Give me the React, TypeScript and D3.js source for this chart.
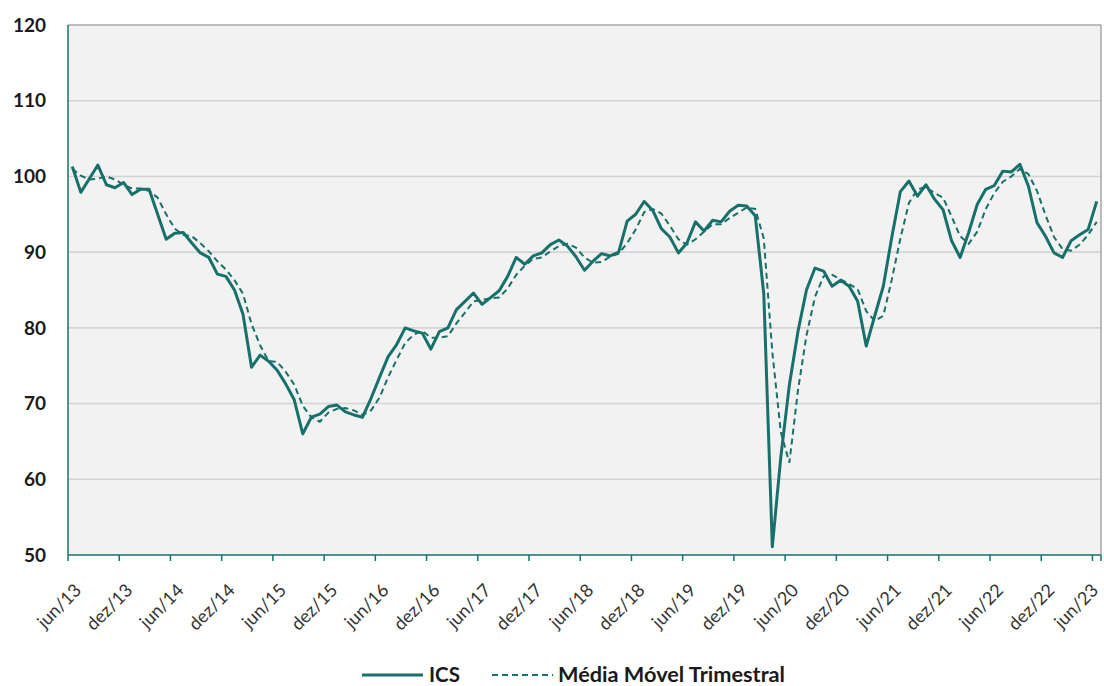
import React from "react";
import * as d3 from "d3";

const MONTHS = ["jan", "fev", "mar", "abr", "mai", "jun", "jul", "ago", "set", "out", "nov", "dez"];
const categories: string[] = [];
for (let i = 0; i < 121; i++) {
  const m = (5 + i) % 12;
  const y = 13 + Math.floor((5 + i) / 12);
  categories.push(`${MONTHS[m]}/${y}`);
}

const tickLabels = [
  "jun/13", "dez/13", "jun/14", "dez/14", "jun/15", "dez/15", "jun/16", "dez/16", "jun/17", "dez/17",
  "jun/18", "dez/18", "jun/19", "dez/19", "jun/20", "dez/20", "jun/21", "dez/21", "jun/22", "dez/22", "jun/23",
];

const yTicks = [50, 60, 70, 80, 90, 100, 110, 120];

const ICS = [
  101.3, 97.9, 99.7, 101.5, 98.9, 98.5, 99.2, 97.6, 98.3, 98.3,
  95.0, 91.7, 92.5, 92.6, 91.2, 89.9, 89.3, 87.1, 86.8, 85.0,
  81.8, 74.8, 76.4, 75.6, 74.4, 72.6, 70.5, 66.0, 68.2, 68.6,
  69.6, 69.8, 68.9, 68.5, 68.2, 70.7, 73.5, 76.2, 77.8, 80.0,
  79.6, 79.3, 77.2, 79.5, 80.0, 82.4, 83.5, 84.6, 83.1, 84.0,
  84.9, 86.8, 89.3, 88.4, 89.5, 89.9, 91.0, 91.6, 90.8, 89.4,
  87.6, 88.8, 89.8, 89.5, 90.0, 94.1, 95.0, 96.7, 95.5, 93.1,
  92.0, 89.9, 91.2, 94.0, 92.8, 94.2, 94.0, 95.4, 96.2, 96.1,
  94.8, 84.5, 51.1, 63.0, 72.5, 79.5, 85.0, 87.9, 87.5, 85.5,
  86.3, 85.5, 83.5, 77.6, 81.6, 85.5, 92.0, 98.0, 99.4, 97.4,
  98.9, 97.0, 95.6, 91.5, 89.3, 92.6, 96.3, 98.3, 98.8, 100.7,
  100.6, 101.6, 98.7, 93.9, 92.1, 89.9, 89.3, 91.5, 92.3, 93.0,
  96.7,
];

const MMT = [
  101.0, 100.1, 99.6, 99.7, 100.0, 99.6, 98.9, 98.4, 98.4, 98.1,
  97.2, 95.0, 93.1, 92.3, 92.1, 91.2, 90.1, 88.8, 87.7, 86.3,
  84.5, 80.5, 77.7, 75.6, 75.5, 74.2, 72.5, 69.7, 68.2, 67.6,
  68.8, 69.3, 69.4, 69.1, 68.5, 69.1, 70.8, 73.5, 75.8, 78.0,
  79.1, 79.6, 78.7, 78.7, 78.9, 80.6, 82.0, 83.5, 83.7, 83.9,
  84.0, 85.2, 87.0, 88.2, 89.1, 89.3, 90.1, 90.8, 91.1, 90.6,
  89.3, 88.6, 88.7, 89.4, 89.8, 91.2, 93.0, 95.3, 95.7, 95.1,
  93.5, 91.7, 91.0, 91.7, 92.7, 93.7, 93.7, 94.5, 95.2, 95.9,
  95.7, 91.8, 76.8, 66.2, 62.2, 71.7, 79.0, 84.1, 86.8, 87.0,
  86.4, 85.8, 85.1, 82.2, 80.9, 81.6, 86.4, 91.8, 96.5, 98.3,
  98.6, 97.8, 97.2, 94.7, 92.1, 91.1, 92.7, 95.7, 97.8, 99.3,
  100.0, 101.0, 100.3, 98.1, 94.9, 92.0, 90.4, 90.2, 91.0, 92.3,
  94.0,
];

const W = 1104;
const H = 686;
const L = 68;
const R = 1101;
const T = 25;
const B = 555;
const TEAL = "#18706b";
const FONT = "Lato, 'Open Sans', sans-serif";

export default function App() {
  const x = d3.scaleBand<string>().domain(categories).range([L, R]).padding(0);
  const bw = x.bandwidth();
  const cx = (i: number) => (x(categories[i]) as number) + bw / 2;
  const y = d3.scaleLinear().domain([50, 120]).range([B, T]);

  const line = d3
    .line<number>()
    .x((_, i) => cx(i))
    .y((d) => y(d));

  const tickIdx = tickLabels.map((t) => categories.indexOf(t));

  return (
    <svg width={W} height={H} style={{ position: "absolute", left: 0, top: 0, background: "#fff" }}>
      <rect x={L} y={T} width={R - L} height={B - T} fill="#f2f2f2" />
      {yTicks.filter((v) => v > 50 && v < 120).map((v) => (
        <line key={v} x1={L} x2={R} y1={y(v)} y2={y(v)} stroke="#d4d4d4" strokeWidth={1.6} />
      ))}
      <line x1={L} x2={R} y1={T} y2={T} stroke="#a6a6a6" strokeWidth={1.5} />
      <line x1={R} x2={R} y1={T} y2={B} stroke="#a6a6a6" strokeWidth={1.5} />
      <line x1={L} x2={L} y1={T} y2={B} stroke={TEAL} strokeWidth={1.5} />
      <line x1={L} x2={R} y1={B} y2={B} stroke={TEAL} strokeWidth={1.5} />
      {tickIdx.map((i, j) => {
        const tx = x(categories[i]) as number;
        return <line key={j} x1={tx} x2={tx} y1={B} y2={B + 6} stroke={TEAL} strokeWidth={1.5} />;
      })}
      <line x1={R} x2={R} y1={B} y2={B + 6} stroke={TEAL} strokeWidth={1.5} />
      {yTicks.map((v) => (
        <text
          key={v}
          x={46}
          y={y(v)}
          dy="0.35em"
          textAnchor="end"
          fontFamily={FONT}
          fontWeight={700}
          fontSize={19}
          fill="#1a1a1a"
        >
          {v}
        </text>
      ))}
      {tickIdx.map((i, j) => {
        const tick = x(categories[i]) as number;
        const tx = Math.min(tick + 10, 1095);
        const ty = B + 32;
        return (
          <text
            key={j}
            x={tx}
            y={ty}
            dy="0.35em"
            textAnchor="end"
            transform={`rotate(-45 ${tx} ${ty})`}
            fontFamily={FONT}
            fontSize={18}
            fill="#333"
          >
            {tickLabels[j]}
          </text>
        );
      })}
      <path d={line(MMT) || ""} fill="none" stroke={TEAL} strokeWidth={2} strokeDasharray="6 4" />
      <path d={line(ICS) || ""} fill="none" stroke={TEAL} strokeWidth={3} strokeLinejoin="round" />
      <g fontFamily={FONT} fontSize={20.5} fontWeight={700} fill="#1a1a1a">
        <line x1={362} x2={423} y1={675} y2={675} stroke={TEAL} strokeWidth={3} />
        <text x={429} y={675} dy="0.35em">ICS</text>
        <line x1={492} x2={553} y1={675} y2={675} stroke={TEAL} strokeWidth={2} strokeDasharray="6 4" />
        <text x={558} y={675} dy="0.35em" textLength={227} lengthAdjust="spacingAndGlyphs">Média Móvel Trimestral</text>
      </g>
    </svg>
  );
}
